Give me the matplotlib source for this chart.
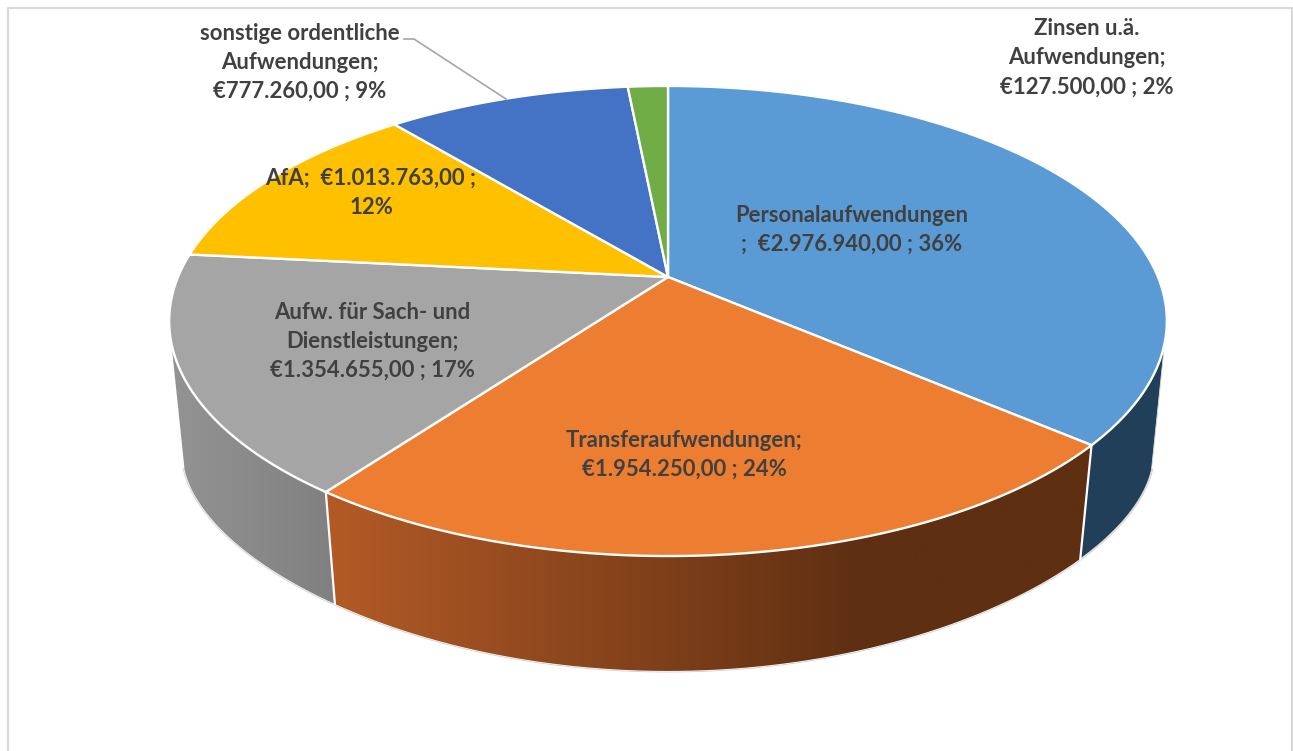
import numpy as np
import matplotlib
matplotlib.use("Agg")
import matplotlib.pyplot as plt
from matplotlib.patches import Polygon, PathPatch
from matplotlib.path import Path

# ---- data ----
categories = ["Personalaufwendungen", "Transferaufwendungen",
              "Aufw. für Sach- und Dienstleistungen", "AfA",
              "sonstige ordentliche Aufwendungen", "Zinsen u.ä. Aufwendungen"]
values = [2976940, 1954250, 1354655, 1013763, 777260, 127500]
labels = ["Personalaufwendungen\n;  €2.976.940,00 ; 36%",
          "Transferaufwendungen;\n€1.954.250,00 ; 24%",
          "Aufw. für Sach- und\nDienstleistungen;\n€1.354.655,00 ; 17%",
          "AfA;  €1.013.763,00 ;\n12%",
          "sonstige ordentliche\nAufwendungen;\n€777.260,00 ; 9%",
          "Zinsen u.ä.\nAufwendungen;\n€127.500,00 ; 2%"]
label_pos = [(852, 230), (684, 455), (372, 341.5), (371, 193), (300, 62.5), (1087, 58)]
top_colors = ["#5B9BD5", "#ED7D31", "#A5A5A5", "#FFC000", "#4472C4", "#70AD47"]

W, H = 1293, 751
fig = plt.figure(figsize=(W / 100, H / 100), dpi=100, facecolor="white")
ax = fig.add_axes([0, 0, 1, 1])
ax.set_xlim(0, W)
ax.set_ylim(H, 0)
ax.axis("off")
plt.rcParams["font.family"] = ["Lato", "DejaVu Sans"]

# perspective projection of the pie's circular faces
CX, K, KB = 668.0, 0.1872, 0.33


def top(t):
    u, v = np.sin(t), np.cos(t)
    w = 1 + K * v
    return CX + 490 * u / w, 277 - 226.8 * v / w


def bottom(t):
    u, v = np.sin(t), np.cos(t)
    return CX + 477 * u / (1 + K * v), 418.7 - 169 * v / (1 + KB * v)


fracs = np.array(values, dtype=float) / np.sum(values)
edges = np.concatenate([[0], np.cumsum(fracs)]) * 2 * np.pi

# outer rim of the body
vis0, vis1 = np.radians(106), np.radians(254)
rim = np.linspace(vis0, vis1, 300)
bx, by = bottom(rim)
ax.plot(bx, by, color="#CFCFCF", lw=2.2, zorder=1)
ax.plot(bx, by, color="white", lw=1.0, zorder=1.1)


def side_poly(a, b):
    t = np.linspace(a, b, 200)
    xt, yt = top(t)
    xb, yb = bottom(t)
    return np.column_stack([np.r_[xt, xb[::-1]], np.r_[yt, yb[::-1]]])


# dark-blue side
ax.add_patch(Polygon(side_poly(vis0, edges[1]), closed=True, fc="#223F59",
                     ec="#D8D8D8", lw=0.6, zorder=2))

# gradient sides
grad_orange = np.array([[180, 91, 38], [178, 90, 38], [95, 47, 18], [95, 47, 18]]) / 255
x_orange = [315, 335, 860, 1095]
grad_gray = np.array([[148, 148, 148], [128, 128, 128], [128, 128, 128]]) / 255
x_gray = [165, 335, 345]


def gradient(poly, xs, cols):
    xx = np.arange(xs[0], xs[-1] + 1)
    img = np.stack([np.interp(xx, xs, cols[:, i]) for i in range(3)], axis=1)[None, :, :]
    im = ax.imshow(img, extent=(xs[0], xs[-1], 700, 300), aspect="auto", zorder=2,
                   interpolation="bilinear")
    im.set_clip_path(PathPatch(Path(np.r_[poly, poly[:1]]), transform=ax.transData))


gradient(side_poly(edges[1], edges[2]), x_orange, grad_orange)
gradient(side_poly(edges[2], vis1), x_gray, grad_gray)
ax.set_xlim(0, W)
ax.set_ylim(H, 0)

# dividers on the side wall
for e in edges[1:3]:
    x0, y0 = top(e)
    x1, y1 = bottom(e)
    ax.plot([x0, x1], [y0, y1], color="white", lw=1.6, zorder=3)

# top faces
for i in range(len(values)):
    t = np.linspace(edges[i], edges[i + 1], 300)
    xs, ys = top(t)
    pts = np.column_stack([np.r_[CX, xs], np.r_[277, ys]])
    ax.add_patch(Polygon(pts, closed=True, fc=top_colors[i], ec="white", lw=1.7,
                         joinstyle="miter", zorder=4))

# data labels
for s, (x, y) in zip(labels, label_pos):
    ax.text(x, y, s, ha="center", va="center", fontsize=15.9, fontweight="bold",
            color="#404040", linespacing=1.48, zorder=6)

# leader line
ax.plot([404, 414, 506], [39, 39, 99], color="#A6A6A6", lw=1.2, zorder=5)

# chart frame
ax.plot([7.5, 7.5, 1292, 1292], [H, 7.5, 7.5, H], color="#D9D9D9", lw=1.6, zorder=0,
        clip_on=False)

fig.savefig("out.png", dpi=100)
